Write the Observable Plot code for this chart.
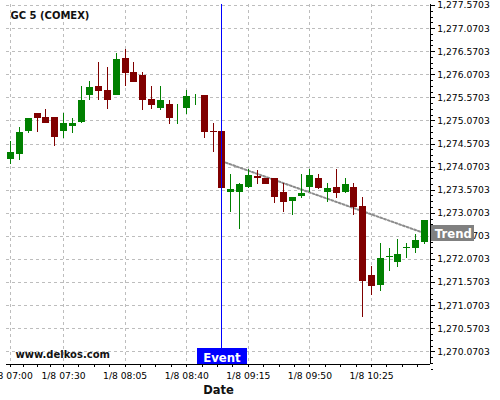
<!DOCTYPE html>
<html>
<head>
<meta charset="utf-8">
<script src="https://cdn.jsdelivr.net/npm/d3@7"></script>
<script src="https://cdn.jsdelivr.net/npm/@observablehq/plot@0.6"></script>
<style>
  body { margin: 0; background: #fff; font-family: "DejaVu Sans", sans-serif; }
  #chart { width: 500px; height: 400px; overflow: hidden; }
</style>
</head>
<body>
<div id="chart"></div>
<script>
// ---- data ----
const title = "GC 5 (COMEX)";
const watermark = "www.delkos.com";
const xAxisTitle = "Date";

const times = ["07:00","07:05","07:10","07:15","07:20","07:25","07:30","07:35","07:40","07:45",
  "07:50","07:55","08:00","08:05","08:10","08:15","08:20","08:25","08:30","08:35",
  "08:40","08:45","08:50","08:55","09:00","09:05","09:10","09:15","09:20","09:25",
  "09:30","09:35","09:40","09:45","09:50","09:55","10:00","10:05","10:10","10:15",
  "10:20","10:25","10:30","10:35","10:40","10:45","10:50","10:55"];

const open = [1274.220,1274.328,1274.826,1275.231,1275.123,1275.123,1274.826,1274.934,1275.021,1275.621,
  1275.816,1275.729,1275.621,1276.422,1276.119,1276.033,1275.513,1275.324,1275.426,1275.242,
  1275.324,1275.621,1275.621,1274.837,1274.820,1273.520,1273.520,1273.613,1273.852,1273.823,
  1273.823,1273.520,1273.310,1273.412,1273.607,1273.823,1273.520,1273.607,1273.520,1273.607,
  1273.217,1271.701,1271.506,1272.123,1272.004,1272.314,1272.307,1272.416];
const high = [1274.614,1274.921,1275.123,1275.231,1275.311,1275.123,1275.225,1275.123,1275.812,1275.918,
  1276.336,1276.221,1276.524,1276.611,1276.336,1276.119,1275.816,1275.816,1275.513,1275.426,
  1275.729,1275.636,1275.621,1275.008,1274.820,1273.910,1273.715,1274.018,1273.997,1273.823,
  1273.823,1273.715,1273.412,1273.910,1274.018,1273.910,1273.715,1274.018,1273.823,1273.715,
  1273.412,1271.917,1272.416,1272.301,1272.502,1272.416,1272.610,1272.914];
const low = [1274.122,1274.207,1274.804,1274.813,1275.015,1274.506,1274.700,1274.804,1275.010,1275.502,
  1275.502,1275.311,1275.621,1275.816,1275.903,1275.296,1275.311,1275.303,1274.999,1274.999,
  1275.216,1275.411,1274.696,1274.393,1273.607,1273.093,1272.712,1273.613,1273.704,1273.715,
  1273.288,1273.093,1273.015,1273.390,1273.520,1273.585,1273.304,1273.401,1273.498,1273.022,
  1270.806,1271.289,1271.376,1271.809,1271.896,1272.091,1272.199,1272.394];
const close = [1274.408,1274.820,1275.123,1275.129,1275.021,1274.718,1275.015,1275.015,1275.513,1275.816,
  1275.729,1275.513,1276.422,1276.119,1275.924,1275.513,1275.426,1275.513,1275.129,1275.253,
  1275.621,1275.632,1274.826,1274.826,1273.607,1273.600,1273.715,1273.910,1273.839,1273.715,
  1273.418,1273.310,1273.412,1273.520,1273.910,1273.607,1273.607,1273.520,1273.715,1273.217,
  1271.614,1271.506,1272.112,1272.134,1272.199,1272.324,1272.502,1272.914];

const yTicks = [1270.0703,1270.5703,1271.0703,1271.5703,1272.0703,1272.5703,1273.0703,1273.5703,
  1274.0703,1274.5703,1275.0703,1275.5703,1276.0703,1276.5703,1277.0703,1277.5703];
const xTickTimes = ["07:00","07:30","08:05","08:40","09:15","09:50","10:25"];
const xTickLabels = ["1/8 07:00","1/8 07:30","1/8 08:05","1/8 08:40","1/8 09:15","1/8 09:50","1/8 10:25"];

const eventTime = "09:00";
const eventLabel = "Event";
const trendTimes = ["09:00","10:55"];
const trendPrices = [1274.196, 1272.640];
const trendLabel = "Trend";

// ---- helpers / tables ----
const toMin = s => { const [h, m] = s.split(":").map(Number); return (h - 7) * 60 + m; };
const candles = times.map((t, i) => ({t: toMin(t), open: open[i], high: high[i], low: low[i], close: close[i]}));
const up = "#008000", down = "#800000";
const col = d => d.close >= d.open ? up : down;
const xTicks = xTickTimes.map(toMin);
// minor ticks: 4 subdivisions of each labelled interval
const xMinor = [];
for (let k = 0; k < xTicks.length; k++) {
  const a = xTicks[k], b = k + 1 < xTicks.length ? xTicks[k + 1] : xTicks[k] + 35;
  for (let j = 1; j < 4; j++) xMinor.push(a + (b - a) * j / 4);
}
const yMinor = [];
for (let k = -1; k < yTicks.length; k++) {
  const a = k < 0 ? yTicks[0] - 0.5 : yTicks[k];
  for (let j = 1; j < 4; j++) yMinor.push(a + 0.125 * j);
}
const xDomain = [-2.4, 238.5];
const yDomain = [1269.795, 1277.592];
const trend = trendTimes.map((t, i) => ({t: toMin(t), p: trendPrices[i]}));
const ev = toMin(eventTime);
const fmtY = d3.format(",.4f");
const crisp = {shapeRendering: "crispEdges"};

const chart = Plot.plot({
  width: 500,
  height: 400,
  marginLeft: 6,
  marginRight: 70,
  marginTop: 4,
  marginBottom: 36,
  style: {fontFamily: "DejaVu Sans", fontSize: "9.2px", background: "white", overflow: "hidden", color: "black"},
  x: {domain: xDomain},
  y: {domain: yDomain},
  color: {type: "identity"},
  marks: [
    // grid
    Plot.ruleY(yTicks, {y: d => d, stroke: "#bdbdbd", strokeDasharray: "3,3", ...crisp}),
    Plot.ruleX(xTicks, {x: d => d, stroke: "#bdbdbd", strokeDasharray: "3,3", ...crisp}),
    // trend line
    Plot.line(trend, {x: "t", y: "p", stroke: "#8c8c8c", strokeWidth: 2, strokeDasharray: "2,2"}),
    // candles
    Plot.ruleX(candles, {x: "t", y1: "low", y2: "high", stroke: col, strokeWidth: 1, ...crisp}),
    Plot.ruleX(candles, {x: "t", y1: "open", y2: "close", stroke: col, strokeWidth: 7, insetTop: -0.5, insetBottom: -0.5, ...crisp}),
    // event line
    Plot.ruleX([ev], {x: d => d, stroke: "#0000ff", strokeWidth: 1, ...crisp}),
    // axes
    Plot.axisX(xTicks, {anchor: "bottom", tickSize: 3, tickPadding: 5, label: null,
      tickFormat: d => xTickLabels[xTicks.indexOf(d)], fontSize: 9.2, ...crisp}),
    Plot.axisX(xMinor, {anchor: "bottom", tickSize: 3, label: null, tickFormat: () => "", ...crisp}),
    Plot.axisY(yTicks, {anchor: "right", tickSize: 4, tickPadding: 2.7, label: null, tickFormat: fmtY, fontSize: 9.2, ...crisp}),
    Plot.axisY(yMinor, {anchor: "right", tickSize: 2, label: null, tickFormat: () => "", ...crisp}),
    Plot.ruleY([yDomain[0]], {y: d => d, stroke: "black", strokeWidth: 1.5, ...crisp}),
    Plot.ruleX([xDomain[1]], {x: d => d, stroke: "black", strokeWidth: 1.5, ...crisp}),
    // labels
    Plot.text([title], {text: d => d, frameAnchor: "top-left", dx: 4, dy: 7.7, lineAnchor: "top",
      textAnchor: "start", fontWeight: "bold", fontSize: 10, fill: "#111"}),
    Plot.text([watermark], {text: d => d, frameAnchor: "bottom-left", dx: 9, dy: -9.9, lineAnchor: "middle",
      textAnchor: "start", fontWeight: "bold", fontSize: 10, fill: "#111"}),
    Plot.text([xAxisTitle], {text: d => d, frameAnchor: "bottom", dy: 26.3, lineAnchor: "middle",
      fontWeight: "bold", fontSize: 11.5, fill: "#111"}),
    // event label
    Plot.ruleX([ev], {x: d => d, stroke: "#0000ff", strokeWidth: 50, insetTop: 343.7, ...crisp}),
    Plot.text([eventLabel], {x: () => ev, text: d => d, frameAnchor: "bottom", dy: -6.5, lineAnchor: "middle",
      fill: "white", fontWeight: "bold", fontSize: 11.7}),
    // trend label
    Plot.ruleY([trendPrices[1]], {y: d => d, x1: () => xDomain[1], x2: () => xDomain[1],
      insetLeft: 1, insetRight: -44, stroke: "#808080", strokeWidth: 16, ...crisp}),
    Plot.text([trendLabel], {x: () => xDomain[1], y: () => trendPrices[1], text: d => d, dx: 4.3, dy: 1,
      textAnchor: "start", lineAnchor: "middle", fill: "white", fontWeight: "bold", fontSize: 11.7})
  ]
});
document.getElementById("chart").appendChild(chart);
</script>
</body>
</html>
